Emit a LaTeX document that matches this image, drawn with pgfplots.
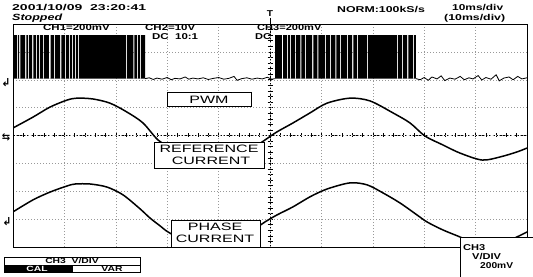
\documentclass[border=0pt]{standalone}
\usepackage{pgfplots}
\pgfplotsset{compat=1.18}
\usepackage{fontspec}
\setmainfont{Liberation Sans}
\newfontfamily\djv{DejaVu Sans}
\newcommand{\st}[2][1.35]{\scalebox{#1}[1]{\fontsize{8.5}{9}\selectfont\bfseries #2}}
\newcommand{\bl}[1]{\scalebox{1.5}[1]{\fontsize{10.7}{12}\selectfont #1}}
\begin{document}
\begin{tikzpicture}[every node/.style={inner sep=0pt}]
\path[use as bounding box] (0,0) rectangle (533pt,276pt);
% centre cross-hair (under the traces)
\begin{scope}[x=1pt,y=-1pt,yshift=276pt]
\draw[line width=0.5pt, dash pattern=on 2pt off 1.5pt] (13,135.5) -- (527,135.5);
\foreach \i in {0,...,50} \draw[line width=0.5pt] ({13+\i*10.28},133.5) -- ({13+\i*10.28},137.5);
\draw[line width=0.5pt, dash pattern=on 2pt off 1.5pt] (270,24) -- (270,247);
\foreach \j in {0,...,40} \draw[line width=0.5pt] (267.5,{24+\j*5.575}) -- (272.5,{24+\j*5.575});
\end{scope}
\begin{axis}[
  at={(13pt,29pt)}, anchor=south west,
  scale only axis, width=514pt, height=223pt,
  xmin=0, xmax=100, ymin=-4, ymax=4,
  xtick={0,10,...,100}, ytick={-4,-3,...,4},
  xticklabels={}, yticklabels={},
  major tick length=0pt,
  grid=major,
  major grid style={gray!80, dash pattern=on 0.7pt off 2.3pt},
  axis line style={black, line width=0.8pt},
  no markers,
]
% CH1 : PWM bursts
\addplot[const plot, fill=black, draw=none] coordinates {
(0,2.04) (0,3.6) (0.78,2.04) (1.0,3.6) (1.17,2.04) (1.45,3.6) (2.34,2.04) (2.6,3.6)
(2.92,2.04) (3.15,3.6) (3.70,2.04) (3.95,3.6) (4.48,2.04) (4.7,3.6) (5.06,2.04) (5.3,3.6)
(5.84,2.04) (6.05,3.6) (7.0,2.04) (7.3,3.6) (7.98,2.04) (8.2,3.6) (9.15,2.04) (9.4,3.6)
(10.1,2.04) (10.3,3.6) (10.9,2.04) (11.1,3.6) (11.5,2.04) (11.7,3.6) (12.1,2.04) (12.3,3.6)
(12.6,2.04) (12.8,3.6) (22.0,2.04) (22.2,3.6) (23.4,2.04) (23.6,3.6) (24.1,2.04) (24.3,3.6)
(24.7,2.04) (24.9,3.6) (25.7,2.04)};
\addplot[const plot, fill=black, draw=none] coordinates {
(51.0,2.04) (51.0,3.6) (52.3,2.04) (52.55,3.6) (53.3,2.04) (53.5,3.6) (53.9,2.04) (54.1,3.6)
(54.9,2.04) (55.1,3.6) (55.9,2.04) (56.1,3.6) (56.8,2.04) (57.0,3.6) (58.2,2.04) (58.45,3.6)
(59.2,2.04) (59.4,3.6) (60.7,2.04) (60.9,3.6) (61.7,2.04) (61.9,3.6) (62.7,2.04) (62.9,3.6)
(63.6,2.04) (63.8,3.6) (65.0,2.04) (65.2,3.6) (66.0,2.04) (66.2,3.6) (66.9,2.04) (67.1,3.6)
(68.9,2.04) (69.1,3.6) (74.7,2.04) (74.9,3.6) (75.7,2.04) (75.9,3.6) (76.7,2.04) (76.9,3.6)
(77.8,2.04) (78.0,3.6) (78.4,2.04)};
\addplot[black, line width=0.8pt] coordinates {
(25.7,2.04) (26.5,2.07) (27.3,2.01) (28.0,2.06) (29.0,2.02) (30.0,2.08) (30.8,2.0) (31.5,2.05)
(32.5,2.03) (33.5,2.1) (34.2,2.02) (35.0,2.06) (36.0,2.03) (37.0,2.07) (38.0,2.01) (39.0,2.05)
(40.0,2.08) (41.0,2.02) (42.0,2.05) (43.0,2.12) (43.6,1.98) (44.5,2.04) (45.5,2.07) (46.5,2.02)
(47.5,2.06) (48.5,2.03) (49.5,2.09) (50.3,2.02) (51.0,2.04)};
\addplot[black, line width=0.8pt] coordinates {
(78.4,2.04) (79.2,2.0) (80.0,2.08) (80.8,1.98) (81.5,2.1) (82.5,2.03) (83.3,2.14) (84.0,1.97)
(85.0,2.06) (86.0,2.02) (87.0,2.12) (87.8,2.0) (88.7,2.07) (89.5,2.03) (90.5,2.15) (91.2,1.99)
(92.0,2.08) (93.0,2.02) (94.0,2.18) (94.6,1.96) (95.5,2.06) (96.5,2.1) (97.3,2.0) (98.2,2.12)
(99.0,2.03) (100,2.07)};
% CH2 : reference current
\addplot[black, line width=1.5pt, smooth] coordinates {
(0,0.27) (3.89,0.66) (7.20,1.02) (10.51,1.27) (12.45,1.34) (15.56,1.31) (18.87,1.16)
(22.18,0.84) (25.29,0.45) (28.21,-0.16) (31,-0.45) (35,-0.72) (41,-0.88) (45,-0.62)
(47.5,-0.35) (49.03,-0.16) (51.36,0.13) (54.47,0.45) (57.78,0.81) (61.09,1.16) (65.56,1.34)
(69.46,1.24) (73.93,0.81) (77.24,0.45) (80.16,-0.02) (83.66,-0.34) (86.96,-0.63)
(91.25,-0.88) (94.75,-0.77) (98.05,-0.59) (100,-0.45)};
% CH3 : phase current
\addplot[black, line width=1.5pt, smooth] coordinates {
(0,-2.74) (3.89,-2.31) (7.20,-2.03) (10.51,-1.81) (12.10,-1.74) (15.0,-1.74) (18.29,-1.85)
(21.40,-2.13) (24.71,-2.63) (26.65,-2.96) (28.60,-3.24) (30.16,-3.46) (34,-3.85) (38,-4.05)
(42,-3.95) (45,-3.65) (47.5,-3.3) (49.03,-3.10) (51.36,-2.85) (54.47,-2.56) (57.78,-2.20)
(61.09,-1.92) (65.56,-1.70) (68.87,-1.77) (71.98,-2.06) (75.29,-2.42) (78.60,-2.85)
(80.54,-3.10) (83.66,-3.39) (86.96,-3.64) (90,-3.9) (93,-3.95) (96,-3.8) (98.5,-3.6) (100,-3.46)};
\end{axis}
\begin{scope}[x=1pt,y=-1pt,yshift=276pt]
% header
\node[anchor=west] at (12,8) {\st[1.65]{2001/10/09\ \ 23:20:41}};
\node[anchor=west] at (12,18) {\scalebox{1.39}[1]{\fontsize{9}{10}\selectfont\bfseries\itshape Stopped}};
\node[anchor=west] at (337,10) {\st[1.45]{NORM:100kS/s}};
\node[anchor=west] at (452,8) {\st[1.4]{10ms/div}};
\node[anchor=west] at (444,18) {\st[1.45]{(10ms/div)}};
\node[anchor=west] at (43,28) {\st[1.35]{CH1=200mV}};
\node[anchor=west] at (145,28) {\st[1.35]{CH2=10V}};
\node[anchor=west] at (152,36.5) {\st[1.35]{DC\ \ 10:1}};
\node[anchor=west] at (257,28) {\st[1.3]{CH3=200mV}};
\node[anchor=west] at (255,36.5) {\st[1.3]{DC}};
% trigger marker
\node at (270,14) {\st[1.2]{T}};
\draw[line width=0.6pt] (270,18) -- (270,24);
% ground markers
\node at (6,83) {\djv\fontsize{11}{11}\selectfont\bfseries ↲};
\node at (6,137) {\djv\fontsize{10}{10}\selectfont\bfseries ⇆};
\node at (7,222) {\djv\fontsize{11}{11}\selectfont\bfseries ↲};
% label boxes
\draw[fill=white, line width=0.8pt] (167,92) rectangle (251,106);
\node at (209,99.5) {\bl{PWM}};
\draw[fill=white, line width=0.8pt] (154,142) rectangle (264,168);
\node at (209,148.5) {\bl{REFERENCE}};
\node at (211,160.5) {\bl{CURRENT}};
\draw[fill=white, line width=0.8pt] (171,220) rectangle (260,247);
\node at (215,227) {\bl{PHASE}};
\node at (215,238.5) {\bl{CURRENT}};
% CH3 V/DIV box right
\draw[fill=white, line width=0.8pt] (460,237) rectangle (545,280);
\node[anchor=west] at (463,248) {\st[1.3]{CH3}};
\node[anchor=west] at (472,257) {\st[1.3]{V/DIV}};
\node[anchor=west] at (480,266) {\st[1.2]{200mV}};
% CH3 V/DIV box left
\draw[fill=white, line width=0.8pt] (4,257) rectangle (140,272);
\fill[black] (4,265) rectangle (73,272);
\draw[line width=0.6pt] (4,265) -- (140,265);
\node at (72,261) {\scalebox{1.38}[1]{\fontsize{7.5}{8}\selectfont\bfseries CH3\ \ V/DIV}};
\node[white] at (37,268.5) {\scalebox{1.38}[1]{\fontsize{7.5}{8}\selectfont\bfseries CAL}};
\node at (112,268.5) {\scalebox{1.38}[1]{\fontsize{7.5}{8}\selectfont\bfseries VAR}};
\end{scope}
\end{tikzpicture}
\end{document}
